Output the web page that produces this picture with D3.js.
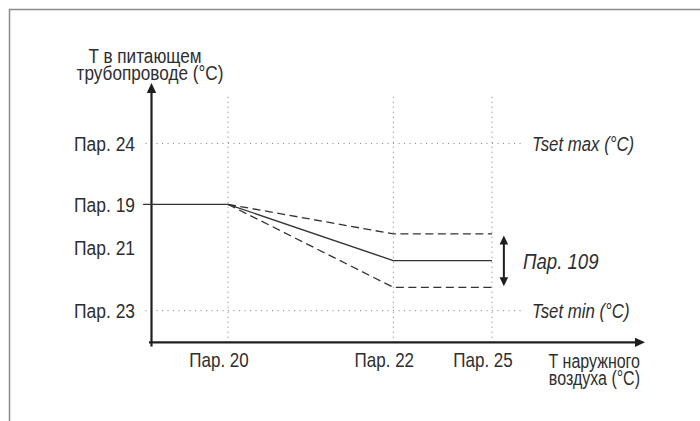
<!DOCTYPE html>
<html>
<head>
<meta charset="utf-8">
<script src="https://cdn.jsdelivr.net/npm/d3@7"></script>
<style>
  html, body { margin: 0; padding: 0; background: #fff; }
  svg { display: block; }
  text { font-family: "Liberation Sans", Arial, sans-serif; fill: #2e2e2e; }
</style>
</head>
<body>
<svg id="chart" width="700" height="421"></svg>
<script>
// ---- data (abstract schematic units) ----
const xTickLabels = ["Пар. 20", "Пар. 22", "Пар. 25"];
const xTickValues = [15.5, 49, 69];
const yTickLabels = ["Пар. 24", "Пар. 19", "Пар. 21", "Пар. 23"];
const yTickValues = [76.7, 53.2, 36.4, 12.2];
const gridYValues = [76.7, 12.2];          // Tset max, Tset min
const gridYLabels = ["Tset max (°C)", "Tset min (°C)"];
const curveX = [-1.7, 15.5, 49, 69];
const curveSolid = [53.2, 53.2, 31.5, 31.5];
const curveUpperX = [15.5, 49, 69];
const curveUpper = [53.2, 41.8, 41.8];
const curveLowerX = [15.5, 49, 69];
const curveLower = [53.2, 21.2, 21.2];
const bandLabel = "Пар. 109";
const bandX = 71.4;
const yTitle = ["T в питающем", "трубопроводе (°C)"];
const xTitle = ["T наружного", "воздуха (°C)"];

const svg = d3.select("#chart");
const W = 700, H = 421;

// helper: text with horizontal condensing (font looks condensed in the original)
function addText(str, px, py, opt) {
  const o = Object.assign({anchor: "start", size: 19, sx: 0.9, italic: false, dy: null}, opt || {});
  const t = svg.append("text")
    .attr("transform", `translate(${px},${py}) scale(${o.sx},1)`)
    .attr("text-anchor", o.anchor)
    .attr("font-size", o.size)
    .text(str);
  if (o.italic) t.attr("font-style", "italic");
  if (o.dy) t.attr("dy", o.dy);
  return t;
}

// frame (top and left edges visible)
svg.append("path").attr("d", `M9.5,${H} L9.5,9.5 L${W},9.5`)
  .attr("fill", "none").attr("stroke", "#8c8c8c").attr("stroke-width", 1.5);

const x = d3.scaleLinear().domain([0, 100]).range([151.5, 645]);
const y = d3.scaleLinear().domain([0, 100]).range([342.3, 83]);

// vertical dotted guides
svg.append("g").selectAll("line").data(xTickValues).join("line")
  .attr("x1", d => x(d)).attr("x2", d => x(d))
  .attr("y1", y(94.7)).attr("y2", y(-1))
  .attr("stroke", "#7a7a7a").attr("stroke-width", 1).attr("stroke-dasharray", "1,4");

// horizontal dotted guides
svg.append("g").selectAll("line").data(gridYValues).join("line")
  .attr("x1", x(-1.2)).attr("x2", x(75.7))
  .attr("y1", d => y(d)).attr("y2", d => y(d))
  .attr("stroke", "#7a7a7a").attr("stroke-width", 1).attr("stroke-dasharray", "1,4.5");

// axes
const axisColor = "#1e1e1e";
svg.append("line").attr("x1", x(0)).attr("x2", x(0)).attr("y1", y(-1.6)).attr("y2", y(97))
  .attr("stroke", axisColor).attr("stroke-width", 2.2);
svg.append("line").attr("x1", x(-0.5)).attr("x2", x(98)).attr("y1", y(0)).attr("y2", y(0))
  .attr("stroke", axisColor).attr("stroke-width", 2.2);
// arrowheads
svg.append("path").attr("d", `M${x(0)},${y(100)} L${x(0)-4.7},${y(100)+10} L${x(0)+4.7},${y(100)+10} Z`).attr("fill", axisColor);
svg.append("path").attr("d", `M${x(100)},${y(0)} L${x(100)-10},${y(0)-4.6} L${x(100)-10},${y(0)+4.6} Z`).attr("fill", axisColor);

// curves
const line = d3.line().x(d => x(d[0])).y(d => y(d[1]));
svg.append("path").datum(d3.zip(curveX, curveSolid)).attr("d", line)
  .attr("fill", "none").attr("stroke", "#333").attr("stroke-width", 1.4);
svg.append("path").datum(d3.zip(curveUpperX, curveUpper)).attr("d", line)
  .attr("fill", "none").attr("stroke", "#333").attr("stroke-width", 1.3).attr("stroke-dasharray", "8,4.5");
svg.append("path").datum(d3.zip(curveLowerX, curveLower)).attr("d", line)
  .attr("fill", "none").attr("stroke", "#333").attr("stroke-width", 1.3).attr("stroke-dasharray", "8,4.5");

// double arrow for band
const ay1 = y(curveUpper[2]) + 1.5, ay2 = y(curveLower[2]) - 1;
svg.append("line").attr("x1", x(bandX)).attr("x2", x(bandX)).attr("y1", ay1 + 6).attr("y2", ay2 - 6)
  .attr("stroke", axisColor).attr("stroke-width", 2);
svg.append("path").attr("d", `M${x(bandX)},${ay1} L${x(bandX)-4.3},${ay1+9} L${x(bandX)+4.3},${ay1+9} Z`).attr("fill", axisColor);
svg.append("path").attr("d", `M${x(bandX)},${ay2} L${x(bandX)-4.3},${ay2-9} L${x(bandX)+4.3},${ay2-9} Z`).attr("fill", axisColor);

// y tick labels
yTickLabels.forEach((d, i) => addText(d, 135, y(yTickValues[i]), {anchor: "end", size: 21, sx: 0.83, dy: "0.36em"}));

// x tick labels
xTickLabels.forEach((d, i) => addText(d, x(xTickValues[i]) - 9, 366.5, {anchor: "middle", size: 21, sx: 0.81}));

// Tset labels
gridYLabels.forEach((d, i) => addText(d, 532, y(gridYValues[i]), {size: 21, sx: 0.8, italic: true, dy: "0.36em"}));

// band label
addText(bandLabel, 523, y((curveUpper[2] + curveLower[2]) / 2), {size: 23, sx: 0.81, italic: true, dy: "0.36em"});

// axis titles
addText(yTitle[0], 145, 62.5, {anchor: "middle", size: 19.5, sx: 0.88});
addText(yTitle[1], 150, 79.5, {anchor: "middle", size: 19.5, sx: 0.88});
addText(xTitle[0], 640, 368, {anchor: "end", size: 20, sx: 0.8});
addText(xTitle[1], 640, 384.5, {anchor: "end", size: 20, sx: 0.8});
</script>
</body>
</html>
